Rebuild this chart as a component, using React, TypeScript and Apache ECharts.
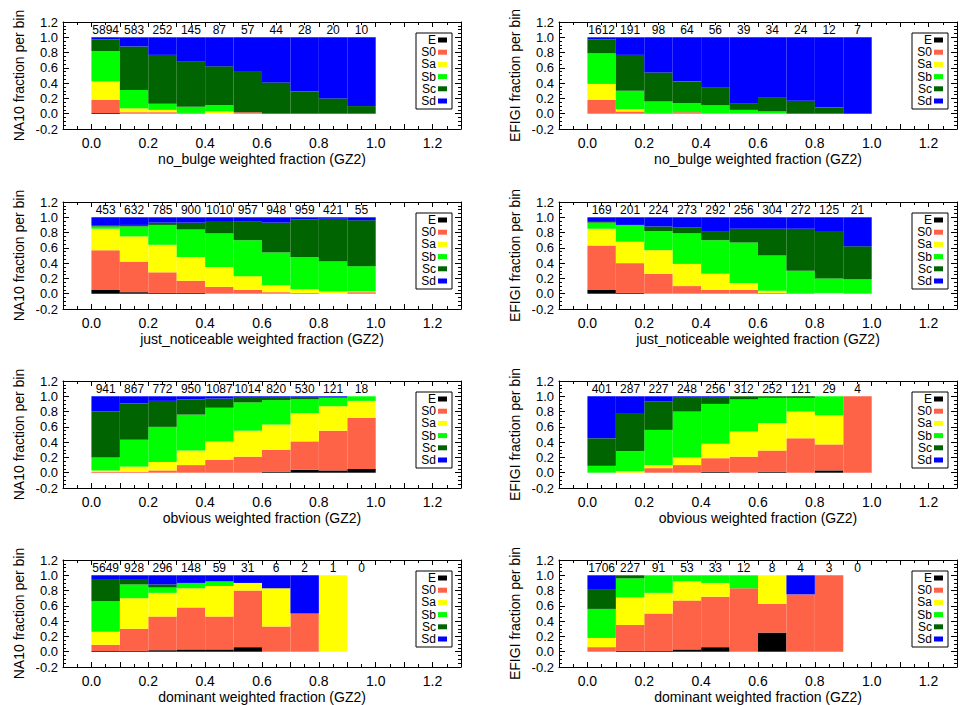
import React, { useEffect, useRef } from "react";
import * as echarts from "echarts";

// ---- categories ----
const CLASSES = ["E", "S0", "Sa", "Sb", "Sc", "Sd"];
const CLASS_COLORS = ["#000000", "#ff6347", "#ffff00", "#00ff00", "#006400", "#0000ff"];
const BIN_EDGES = [0, 0.1, 0.2, 0.3, 0.4, 0.5, 0.6, 0.7, 0.8, 0.9, 1.0];

// ---- fractions per bin (rows: E, S0, Sa, Sb, Sc, Sd) ----
const na10NoBulge = [
  [0.01, 0, 0, 0, 0, 0, 0, 0, 0, 0],
  [0.17, 0.02, 0.02, 0.01, 0, 0.02, 0, 0, 0, 0],
  [0.24, 0.05, 0.03, 0, 0.03, 0, 0, 0, 0, 0],
  [0.40, 0.24, 0.08, 0.08, 0.08, 0, 0, 0, 0, 0],
  [0.15, 0.57, 0.64, 0.59, 0.51, 0.54, 0.41, 0.29, 0.20, 0.10],
  [0.03, 0.12, 0.23, 0.32, 0.38, 0.44, 0.59, 0.71, 0.80, 0.90],
];
const na10NoBulgeCounts = [5894, 583, 252, 145, 87, 57, 44, 28, 20, 10];

const efigiNoBulge = [
  [0, 0, 0, 0, 0, 0, 0, 0, 0, 0],
  [0.18, 0.03, 0.01, 0.02, 0, 0, 0, 0, 0, 0],
  [0.21, 0.03, 0, 0, 0, 0, 0, 0, 0, 0],
  [0.40, 0.24, 0.15, 0.12, 0.11, 0.05, 0.03, 0, 0, 0],
  [0.18, 0.47, 0.38, 0.28, 0.23, 0.08, 0.18, 0.17, 0.08, 0],
  [0.03, 0.23, 0.46, 0.58, 0.66, 0.87, 0.79, 0.83, 0.92, 1.0],
];
const efigiNoBulgeCounts = [1612, 191, 98, 64, 56, 39, 34, 24, 12, 7];

const na10Just = [
  [0.05, 0.02, 0.01, 0.01, 0, 0, 0, 0, 0, 0],
  [0.52, 0.40, 0.27, 0.16, 0.09, 0.05, 0.02, 0.01, 0, 0.02],
  [0.28, 0.33, 0.36, 0.31, 0.26, 0.18, 0.09, 0.05, 0.03, 0.01],
  [0.03, 0.13, 0.26, 0.36, 0.44, 0.47, 0.43, 0.42, 0.39, 0.33],
  [0.01, 0.02, 0.03, 0.09, 0.15, 0.25, 0.39, 0.49, 0.56, 0.60],
  [0.11, 0.10, 0.07, 0.07, 0.06, 0.05, 0.07, 0.03, 0.02, 0.04],
];
const na10JustCounts = [453, 632, 785, 900, 1010, 957, 948, 959, 421, 55];

const efigiJust = [
  [0.05, 0.01, 0, 0, 0, 0, 0, 0, 0, 0],
  [0.58, 0.39, 0.26, 0.10, 0.05, 0.05, 0.01, 0.01, 0, 0],
  [0.22, 0.28, 0.31, 0.29, 0.21, 0.09, 0.03, 0, 0.01, 0],
  [0.08, 0.22, 0.25, 0.40, 0.44, 0.53, 0.46, 0.29, 0.19, 0.19],
  [0.01, 0, 0.06, 0.08, 0.11, 0.18, 0.35, 0.55, 0.62, 0.43],
  [0.06, 0.10, 0.12, 0.13, 0.19, 0.15, 0.15, 0.15, 0.18, 0.38],
];
const efigiJustCounts = [169, 201, 224, 273, 292, 256, 304, 272, 125, 21];

const na10Obvious = [
  [0, 0, 0, 0, 0, 0, 0.01, 0.04, 0.03, 0.05],
  [0.01, 0.01, 0.03, 0.10, 0.17, 0.21, 0.29, 0.37, 0.52, 0.67],
  [0.02, 0.07, 0.11, 0.19, 0.24, 0.34, 0.33, 0.37, 0.32, 0.22],
  [0.17, 0.35, 0.46, 0.47, 0.44, 0.37, 0.32, 0.18, 0.11, 0.06],
  [0.60, 0.48, 0.34, 0.20, 0.12, 0.06, 0.04, 0.03, 0.01, 0],
  [0.20, 0.09, 0.06, 0.04, 0.03, 0.02, 0.01, 0.01, 0.01, 0],
];
const na10ObviousCounts = [941, 867, 772, 950, 1087, 1014, 820, 530, 121, 18];

const efigiObvious = [
  [0, 0, 0, 0, 0.01, 0, 0.01, 0, 0.03, 0],
  [0, 0, 0.06, 0.10, 0.18, 0.21, 0.28, 0.45, 0.34, 1.0],
  [0, 0.02, 0.04, 0.10, 0.19, 0.33, 0.36, 0.35, 0.38, 0],
  [0.09, 0.26, 0.46, 0.60, 0.52, 0.42, 0.33, 0.18, 0.25, 0],
  [0.36, 0.50, 0.37, 0.19, 0.09, 0.04, 0.02, 0.02, 0, 0],
  [0.55, 0.22, 0.07, 0.01, 0.01, 0, 0, 0, 0, 0],
];
const efigiObviousCounts = [401, 287, 227, 248, 256, 312, 252, 121, 29, 4];

const na10Dominant = [
  [0.01, 0.01, 0.02, 0.03, 0.03, 0.06, 0, 0, 0, 0],
  [0.08, 0.29, 0.44, 0.55, 0.43, 0.74, 0.33, 0.50, 0, 0],
  [0.17, 0.40, 0.31, 0.25, 0.40, 0.10, 0.50, 0, 1.0, 0],
  [0.40, 0.18, 0.07, 0.07, 0.06, 0, 0, 0, 0, 0],
  [0.29, 0.06, 0.04, 0, 0, 0, 0, 0, 0, 0],
  [0.05, 0.06, 0.12, 0.10, 0.08, 0.10, 0.17, 0.50, 0, 0],
];
const na10DominantCounts = [5649, 928, 296, 148, 59, 31, 6, 2, 1, 0];

const efigiDominant = [
  [0, 0.01, 0.01, 0.03, 0.06, 0, 0.25, 0, 0, 0],
  [0.06, 0.34, 0.49, 0.64, 0.66, 0.83, 0.375, 0.75, 1.0, 0],
  [0.12, 0.36, 0.27, 0.25, 0.18, 0, 0.375, 0, 0, 0],
  [0.38, 0.25, 0.23, 0.08, 0.10, 0.17, 0, 0, 0, 0],
  [0.26, 0.04, 0, 0, 0, 0, 0, 0, 0, 0],
  [0.18, 0, 0, 0, 0, 0, 0, 0.25, 0, 0],
];
const efigiDominantCounts = [1706, 227, 91, 53, 33, 12, 8, 4, 3, 0];

const X_NAMES = [
  "no_bulge weighted fraction (GZ2)",
  "just_noticeable weighted fraction (GZ2)",
  "obvious weighted fraction (GZ2)",
  "dominant weighted fraction (GZ2)",
];
const Y_NAMES = ["NA10 fraction per bin", "EFIGI fraction per bin"];

const PANELS = [
  { frac: na10NoBulge, counts: na10NoBulgeCounts, row: 0, col: 0 },
  { frac: efigiNoBulge, counts: efigiNoBulgeCounts, row: 0, col: 1 },
  { frac: na10Just, counts: na10JustCounts, row: 1, col: 0 },
  { frac: efigiJust, counts: efigiJustCounts, row: 1, col: 1 },
  { frac: na10Obvious, counts: na10ObviousCounts, row: 2, col: 0 },
  { frac: efigiObvious, counts: efigiObviousCounts, row: 2, col: 1 },
  { frac: na10Dominant, counts: na10DominantCounts, row: 3, col: 0 },
  { frac: efigiDominant, counts: efigiDominantCounts, row: 3, col: 1 },
];

// ---- layout ----
const FONT = '"Liberation Sans", Arial, Helvetica, sans-serif';
const GRID_LEFTS = [63, 559];
const GRID_TOPS = [22, 202, 381, 560];
const GRID_W = 398;
const GRID_H = 107;
const Y_MIN = -0.2;
const Y_MAX = 1.2;

function buildOption() {
  const grid: any[] = [];
  const xAxis: any[] = [];
  const yAxis: any[] = [];
  const series: any[] = [];
  const graphic: any[] = [];

  const tickStyle = { color: "#000", width: 1 };
  const labelBase = { fontFamily: FONT, fontSize: 14, color: "#000" };
  const yLabelBase = { fontFamily: FONT, fontSize: 13, lineHeight: 13, color: "#000" };

  PANELS.forEach((p, g) => {
    const left = GRID_LEFTS[p.col];
    const top = GRID_TOPS[p.row];
    grid.push({ left, top, width: GRID_W, height: GRID_H, containLabel: false });

    xAxis.push({
      gridIndex: g,
      type: "value",
      position: "bottom",
      min: -0.1,
      max: 1.3,
      interval: 0.1,
      axisLine: { show: true, onZero: false, lineStyle: tickStyle },
      axisTick: { show: true, inside: true, length: 5, lineStyle: tickStyle },
      minorTick: { show: true, splitNumber: 2, length: 3, lineStyle: tickStyle },
      splitLine: { show: false },
      axisLabel: {
        ...labelBase,
        margin: 7,
        formatter: (v: number) => {
          const r = Math.round(v * 10);
          return r >= 0 && r % 2 === 0 ? (r / 10).toFixed(1) : "";
        },
      },
      name: X_NAMES[p.row],
      nameLocation: "middle",
      nameGap: 23,
      nameTextStyle: { fontFamily: FONT, fontSize: 14, color: "#000" },
    });
    xAxis.push({
      gridIndex: g,
      type: "value",
      position: "top",
      min: -0.1,
      max: 1.3,
      interval: 0.1,
      axisLine: { show: true, onZero: false, lineStyle: tickStyle },
      axisTick: { show: true, inside: true, length: 5, lineStyle: tickStyle },
      minorTick: { show: true, splitNumber: 2, length: 3, lineStyle: tickStyle },
      splitLine: { show: false },
      axisLabel: { show: false },
    });

    // main left axis: ticks and inner labels (0.0 .. 1.0)
    yAxis.push({
      gridIndex: g,
      type: "value",
      position: "left",
      min: Y_MIN,
      max: Y_MAX,
      interval: 0.2,
      axisLine: { show: true, onZero: false, lineStyle: tickStyle },
      axisTick: { show: true, inside: true, length: 6, lineStyle: tickStyle },
      minorTick: { show: true, splitNumber: 4, length: 3, lineStyle: tickStyle },
      splitLine: { show: false },
      axisLabel: {
        ...yLabelBase,
        margin: 5,
        showMinLabel: false,
        showMaxLabel: false,
        formatter: (v: number) => v.toFixed(1),
      },
      name: Y_NAMES[p.col],
      nameLocation: "middle",
      nameRotate: 90,
      nameGap: 37,
      nameTextStyle: { fontFamily: FONT, fontSize: 14, color: "#000" },
    });
    // mirror right axis (ticks only)
    yAxis.push({
      gridIndex: g,
      type: "value",
      position: "right",
      min: Y_MIN,
      max: Y_MAX,
      interval: 0.2,
      axisLine: { show: true, onZero: false, lineStyle: tickStyle },
      axisTick: { show: true, inside: true, length: 6, lineStyle: tickStyle },
      minorTick: { show: true, splitNumber: 4, length: 3, lineStyle: tickStyle },
      splitLine: { show: false },
      axisLabel: { show: false },
    });
    // end label axes: top label (1.2) near frame top, bottom label (-0.2) near frame bottom
    yAxis.push({
      gridIndex: g,
      type: "value",
      position: "left",
      min: Y_MIN,
      max: Y_MAX,
      interval: Y_MAX - Y_MIN,
      axisLine: { show: false, onZero: false },
      axisTick: { show: false },
      splitLine: { show: false },
      axisLabel: {
        ...yLabelBase,
        margin: 5,
        verticalAlign: "middle",
        padding: [5, 0, 0, 0],
        showMinLabel: true,
        showMaxLabel: true,
        formatter: (v: number) => (v > 0.5 ? v.toFixed(1) : ""),
      },
    });
    yAxis.push({
      gridIndex: g,
      type: "value",
      position: "left",
      min: Y_MIN,
      max: Y_MAX,
      interval: Y_MAX - Y_MIN,
      axisLine: { show: false, onZero: false },
      axisTick: { show: false },
      splitLine: { show: false },
      axisLabel: {
        ...yLabelBase,
        margin: 5,
        verticalAlign: "middle",
        padding: [0, 0, 7, 0],
        showMinLabel: true,
        showMaxLabel: true,
        formatter: (v: number) => (v < 0 ? v.toFixed(1) : ""),
      },
    });

    // stacked bins
    const cum = BIN_EDGES.slice(0, -1).map(() => 0);
    CLASSES.forEach((cls, k) => {
      const data: number[][] = [];
      p.frac[k].forEach((f, i) => {
        const y0 = cum[i];
        const y1 = y0 + f;
        cum[i] = y1;
        if (f > 0) data.push([BIN_EDGES[i], BIN_EDGES[i + 1], y0, y1]);
      });
      const color = CLASS_COLORS[k];
      series.push({
        type: "custom",
        name: cls,
        xAxisIndex: 2 * g,
        yAxisIndex: 4 * g,
        silent: true,
        encode: { x: [0, 1], y: [2, 3] },
        data,
        renderItem: (params: any, api: any) => {
          const pA = api.coord([api.value(0), api.value(3)]);
          const pB = api.coord([api.value(1), api.value(2)]);
          return {
            type: "rect",
            shape: { x: pA[0], y: pA[1], width: pB[0] - pA[0], height: pB[1] - pA[1] },
            style: { fill: color },
          };
        },
      });
    });

    // counts above bins
    const countData = p.counts.map((c, i) => [
      (BIN_EDGES[i] + BIN_EDGES[i + 1]) / 2,
      1.1,
      c,
    ]);
    series.push({
      type: "custom",
      name: "N",
      xAxisIndex: 2 * g,
      yAxisIndex: 4 * g,
      silent: true,
      encode: { x: 0, y: 1 },
      data: countData,
      renderItem: (params: any, api: any) => {
        const pt = api.coord([api.value(0), api.value(1)]);
        return {
          type: "text",
          x: pt[0],
          y: pt[1],
          style: {
            text: String(api.value(2)),
            font: "12px " + FONT,
            fill: "#000",
            align: "center",
            verticalAlign: "middle",
            textAlign: "center",
            textVerticalAlign: "middle",
          },
        };
      },
    });

    // legend box
    const bx = left + 353;
    const by = top + 11;
    const children: any[] = [
      {
        type: "rect",
        shape: { x: bx, y: by, width: 36, height: 76 },
        style: { fill: "#fff", stroke: "#000", lineWidth: 1 },
      },
    ];
    CLASSES.forEach((cls, k) => {
      const cy = by + 7 + 12.2 * k;
      children.push({
        type: "text",
        style: {
          text: cls,
          x: bx + 20,
          y: cy,
          font: "12px " + FONT,
          fill: "#000",
          align: "right",
          verticalAlign: "middle",
          textAlign: "right",
          textVerticalAlign: "middle",
        },
      });
      children.push({
        type: "rect",
        shape: { x: bx + 22, y: cy - 2.5, width: 9, height: 5 },
        style: { fill: CLASS_COLORS[k] },
      });
    });
    graphic.push({ type: "group", children });
  });

  return {
    animation: false,
    backgroundColor: "#ffffff",
    grid,
    xAxis,
    yAxis,
    series,
    graphic,
  };
}

export default function App() {
  const ref = useRef<HTMLDivElement>(null);
  useEffect(() => {
    document.body.style.margin = "0";
    if (!ref.current) return;
    const chart = echarts.init(ref.current, undefined, { renderer: "svg" });
    chart.setOption(buildOption() as any);
    return () => {
      chart.dispose();
    };
  }, []);
  return <div ref={ref} style={{ width: 969, height: 705, background: "#fff" }} />;
}
